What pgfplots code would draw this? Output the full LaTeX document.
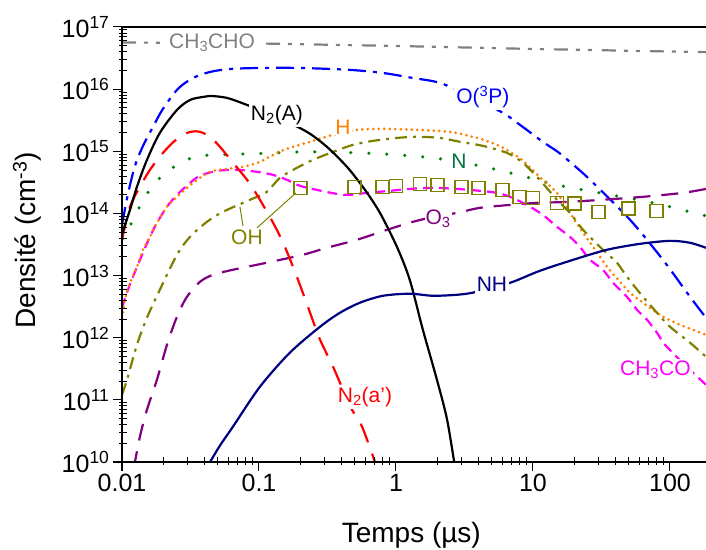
\documentclass[border=0pt]{standalone}
\usepackage{fontspec}
\setmainfont{Liberation Sans}
\usepackage{pgfplots}
\pgfplotsset{compat=1.18}
\definecolor{cgray}{RGB}{128,128,128}
\definecolor{cblue}{RGB}{0,0,255}
\definecolor{cred}{RGB}{255,0,0}
\definecolor{cgreen}{RGB}{0,128,0}
\definecolor{cngreen}{RGB}{0,120,60}
\definecolor{corange}{RGB}{255,128,0}
\definecolor{colive}{RGB}{128,128,0}
\definecolor{cmag}{RGB}{255,0,255}
\definecolor{cpurple}{RGB}{128,0,128}
\definecolor{cnavy}{RGB}{0,0,128}
\begin{document}
\begin{tikzpicture}
\begin{axis}[
  scale only axis, width=589.2pt, height=435pt,
  xmode=log, ymode=log,
  xmin=0.01, xmax=200, ymin=1e10, ymax=1e17,
  axis on top,
  axis line style={line width=1.2pt},
  tick pos=left,
  tick align=outside, major tick length=9pt,
  xtick style={draw=black, line width=1pt},
  ytick style={draw=black, line width=1pt},
  xtick={0.01,0.1,1,10,100}, xticklabels={0.01,0.1,1,10,100},
  ytick={1e10,1e11,1e12,1e13,1e14,1e15,1e16,1e17},
  yticklabels={10\textsuperscript{10},10\textsuperscript{11},10\textsuperscript{12},10\textsuperscript{13},10\textsuperscript{14},10\textsuperscript{15},10\textsuperscript{16},10\textsuperscript{17}},
  tick label style={font=\fontsize{25}{30}\selectfont},
  xlabel={Temps (µs)}, ylabel={Densité (cm\textsuperscript{-3})},
  every axis x label/.style={at={(axis description cs:0.491,-0.168)}, anchor=center, font=\fontsize{28}{33}\selectfont},
  every axis y label/.style={at={(axis description cs:-0.161,0.51)}, rotate=90, anchor=center, font=\fontsize{28}{33}\selectfont},
]
\coordinate (SW) at (rel axis cs:0,0);
% CH3CHO
\addplot[cgray, line width=2.2pt, dash pattern=on 14pt off 8pt on 4pt off 8pt on 4pt off 10pt] coordinates {(0.01,5.64e16)(0.1,5.43e16)(1,4.95e16)(10,4.43e16)(200,3.92e16)};
% O(3P)
\addplot[cblue, line width=2.2pt, smooth, dash pattern=on 18pt off 7pt on 4pt off 7pt] coordinates {
(0.01,6.56e13)(0.01106,2.07e14)(0.01244,5.82e14)(0.01423,1.22e15)(0.01684,2.47e15)(0.0199,4.81e15)(0.0256,1.01e16)(0.0330,1.51e16)(0.0439,1.89e16)(0.0614,2.11e16)(0.1017,2.19e16)(0.199,2.19e16)(0.461,2.04e16)(0.804,1.82e16)(1.33,1.51e16)(2.09,1.26e16)(3.47,7.78e15)(6.04,4.14e15)(8.04,2.66e15)(11.8,1.42e15)(15.2,9.77e14)(18.6,6.76e14)(26.1,3.47e14)(51.1,7.89e13)(88.9,1.79e13)(140,4.56e12)(183,2.10e12)};
% N
\addplot[cgreen, line width=3.5pt, line cap=round, smooth, dash pattern=on 0pt off 18pt] coordinates {
(0.01,3.8e13)(0.01244,8.81e13)(0.01423,1.66e14)(0.0183,3.47e14)(0.0252,6.04e14)(0.0341,8.13e14)(0.0462,8.75e14)(0.0860,9.08e14)(0.217,9.77e14)(0.546,9.42e14)(1.016,8.75e14)(1.86,7.83e14)(3.47,6.27e14)(6.79,4.50e14)(14.96,2.88e14)(30.8,2.14e14)(75.1,1.48e14)(183,9.14e13)};
% O3
\addplot[cpurple, line width=2.2pt, smooth, dash pattern=on 17pt off 11pt] coordinates {
(0.0122,8e9)(0.01352,2.56e10)(0.01522,6.95e10)(0.0180,2.11e11)(0.0213,7.71e11)(0.0252,2.18e12)(0.0298,4.56e12)(0.0371,7.94e12)(0.0462,1.03e13)(0.0646,1.24e13)(0.114,1.61e13)(0.209,2.16e13)(0.313,2.80e13)(0.519,3.77e13)(0.860,5.45e13)(1.33,7.33e13)(2.03,9.14e13)(2.79,1.02e14)(4.10,1.23e14)(6.79,1.37e14)(10.7,1.48e14)(17.7,1.53e14)(32.4,1.66e14)(63.5,1.85e14)(124,2.14e14)(183,2.48e14)};
% CH3CO
\addplot[cmag, line width=2.2pt, smooth, dash pattern=on 10pt off 6pt] coordinates {
(0.01,3.03e12)(0.01106,5.92e12)(0.01203,9.57e12)(0.01423,2.33e13)(0.0160,4.21e13)(0.0180,7.06e13)(0.0213,1.28e14)(0.0252,1.99e14)(0.0314,3.10e14)(0.0371,4.03e14)(0.0494,4.84e14)(0.0690,5.02e14)(0.0967,4.67e14)(0.126,4.18e14)(0.160,3.47e14)(0.199,2.78e14)(0.265,2.39e14)(0.371,2.06e14)(0.461,1.99e14)(0.614,2.14e14)(0.904,2.31e14)(1.26,2.48e14)(1.86,2.58e14)(2.79,2.48e14)(4.10,2.31e14)(5.46,2.14e14)(6.79,1.85e14)(9.04,1.37e14)(11.8,9.48e13)(14.96,6.10e13)(18.6,4.21e13)(22.0,2.90e13)(26.1,1.79e13)(32.4,1.24e13)(38.4,7.66e12)(48.5,4.56e12)(57.4,2.82e12)(67.9,1.95e12)(80.4,1.20e12)(92.0,7.71e11)(128,3.68e11)(183,1.75e11)};
% H
\addplot[corange, line width=3pt, line cap=round, smooth, dash pattern=on 0pt off 5.5pt] coordinates {
(0.01,2.10e12)(0.01052,4.08e12)(0.01144,7.66e12)(0.01286,1.38e13)(0.01423,2.60e13)(0.0160,4.21e13)(0.0180,7.06e13)(0.0213,1.28e14)(0.0252,1.85e14)(0.0330,3.10e14)(0.0439,4.67e14)(0.0584,5.21e14)(0.0764,5.61e14)(0.1017,6.76e14)(0.135,9.42e14)(0.177,1.18e15)(0.236,1.42e15)(0.347,1.84e15)(0.519,2.21e15)(0.804,2.29e15)(1.42,2.21e15)(2.48,2.05e15)(3.90,1.64e15)(5.46,1.27e15)(6.79,9.77e14)(8.31,7.28e14)(11.2,3.87e14)(14.96,2.14e14)(18.6,1.02e14)(23.2,4.88e13)(28.4,2.60e13)(35.2,1.33e13)(43.2,7.94e12)(51.1,5.28e12)(63.5,3.66e12)(88.9,2.18e12)(118,1.62e12)(183,1.12e12)};
% OH model
\addplot[colive, line width=2.2pt, smooth, dash pattern=on 12pt off 6pt on 3pt off 6pt] coordinates {
(0.01,1.21e11)(0.01088,2.11e11)(0.01286,7.71e11)(0.01522,2.10e12)(0.0189,5.92e12)(0.0252,2.16e13)(0.0314,4.21e13)(0.0417,7.33e13)(0.0546,1.06e14)(0.0860,1.66e14)(0.114,2.22e14)(0.142,3.73e14)(0.189,5.41e14)(0.248,7.28e14)(0.347,9.77e14)(0.486,1.27e15)(0.679,1.47e15)(1.016,1.64e15)(1.42,1.71e15)(2.09,1.64e15)(2.93,1.42e15)(4.31,1.22e15)(6.46,9.42e14)(8.45,6.52e14)(11.2,3.47e14)(14.96,1.66e14)(18.6,1.02e14)(23.2,5.45e13)(32.4,2.60e13)(41.0,1.61e13)(48.5,9.57e12)(63.5,4.56e12)(80.4,2.52e12)(100,1.50e12)(140,8.32e11)(183,4.95e11)};
% N2(a')
\addplot[cred, line width=2.2pt, smooth, dash pattern=on 20pt off 12pt] coordinates {
(0.01,3.77e13)(0.01144,1.28e14)(0.01352,2.68e14)(0.0160,5.02e14)(0.0199,9.42e14)(0.0252,1.58e15)(0.0314,2.05e15)(0.0371,2.05e15)(0.0439,1.71e15)(0.0519,1.18e15)(0.0646,6.52e14)(0.0860,2.99e14)(0.120,8.81e13)(0.150,3.37e13)(0.189,9.57e12)(0.236,2.52e12)(0.279,9.3e11)(0.347,3.42e11)(0.410,1.46e11)(0.477,6.95e10)(0.565,3.71e10)(0.703,1.0e10)(0.72,8e9)};
% N2(A)
\addplot[black, line width=2.2pt, smooth] coordinates {
(0.01,4.70e13)(0.01144,1.14e14)(0.01286,2.68e14)(0.01522,7.28e14)(0.0189,1.98e15)(0.0252,4.63e15)(0.0314,6.70e15)(0.0390,7.50e15)(0.0439,7.78e15)(0.0584,7.23e15)(0.0817,5.57e15)(0.135,3.57e15)(0.224,2.05e15)(0.313,1.18e15)(0.439,5.61e14)(0.594,2.39e14)(0.764,1.02e14)(1.016,2.90e13)(1.26,8.55e12)(1.57,1.35e12)(1.99,2.11e11)(2.36,4.81e10)(2.70,8e9)};
% NH
\addplot[cnavy, line width=2.2pt, smooth] coordinates {
(0.0402,7.6e9)(0.0439,1.0e10)(0.0519,1.84e10)(0.0646,3.71e10)(0.1017,1.63e11)(0.168,5.74e11)(0.279,1.50e12)(0.390,2.52e12)(0.546,3.66e12)(0.804,4.73e12)(1.26,5.10e12)(1.86,4.73e12)(2.79,4.91e12)(3.59,5.28e12)(5.02,6.37e12)(7.14,7.94e12)(11.2,1.19e13)(19.6,1.79e13)(34.7,2.60e13)(60.4,3.24e13)(100,3.62e13)(140,3.37e13)(183,2.80e13)};
% OH experiment
\addplot[colive, only marks, mark=square, mark size=6.5pt, mark options={line width=1.6pt, solid}] coordinates {
(0.2,2.58e14)(0.5,2.68e14)(0.8,2.68e14)(1,2.78e14)(1.5,2.99e14)(2,2.88e14)(3,2.68e14)(4,2.58e14)(6,2.39e14)(8,1.85e14)(10,1.78e14)(15,1.48e14)(20,1.43e14)(30,1.06e14)(50,1.19e14)(80,1.10e14)};
% OH leaders
\addplot[colive, line width=1pt] coordinates {(0.0764,6.32e13)(0.0726,1.28e14)};
\addplot[colive, line width=1pt] coordinates {(0.0967,5.86e13)(0.186,2.14e14)};
% labels
\node[font=\fontsize{21}{24}\selectfont, text=cgray, fill=white, inner sep=2pt] at (axis cs:0.0454,5.64e16) {CH\textsubscript{3}CHO};
\node[font=\fontsize{21}{24}\selectfont, text=cblue, fill=white, inner sep=2pt] at (axis cs:4.31,7.5e15) {O(\textsuperscript{3}P)};
\node[font=\fontsize{21}{24}\selectfont, text=black, fill=white, inner sep=2pt] at (axis cs:0.135,3.85e15) {N\textsubscript{2}(A)};
\node[font=\fontsize{21}{24}\selectfont, text=corange, fill=white, inner sep=1pt] at (axis cs:0.410,2.47e15) {H};
\node[font=\fontsize{21}{24}\selectfont, text=cngreen, fill=white, inner sep=1pt] at (axis cs:2.88,7.0e14) {N};
\node[font=\fontsize{21}{24}\selectfont, text=colive, fill=white, inner sep=1pt] at (axis cs:0.0817,4.06e13) {OH};
\node[font=\fontsize{21}{24}\selectfont, text=cpurple, fill=white, inner sep=1pt] at (axis cs:2.03,8.19e13) {O\textsubscript{3}};
\node[font=\fontsize{21}{24}\selectfont, text=cnavy, fill=white, inner sep=2pt] at (axis cs:5.02,7.11e12) {NH};
\node[font=\fontsize{21}{24}\selectfont, text=cred, fill=white, inner sep=2pt] at (axis cs:0.594,1.12e11) {N\textsubscript{2}(a')};
\node[font=\fontsize{21}{24}\selectfont, text=cmag, fill=white, inner sep=2pt] at (axis cs:78.3,3.06e11) {CH\textsubscript{3}CO};
\end{axis}
% tick marks (axis furniture): majors outward, minors inward
\foreach \d in {0,1,2,3,4}{\pgfmathsetmacro{\xx}{136.99*\d}\draw[black, line width=1pt] ([xshift=\xx pt]SW) -- ++(0,-9pt);}
\foreach \d in {0,1,2,3}{\foreach \k in {2,...,9}{\pgfmathsetmacro{\xx}{136.99*(\d+log10(\k))}\draw[black, line width=0.9pt] ([xshift=\xx pt]SW) -- ++(0,5pt);}}
\foreach \d in {0,1,2,3,4,5,6,7}{\pgfmathsetmacro{\yy}{62.142857*\d}\draw[black, line width=1pt] ([yshift=\yy pt]SW) -- ++(-9pt,0);}
\foreach \d in {0,1,2,3,4,5,6}{\foreach \k in {2,...,9}{\pgfmathsetmacro{\yy}{62.142857*(\d+log10(\k))}\draw[black, line width=0.9pt] ([yshift=\yy pt]SW) -- ++(5pt,0);}}
\pgfresetboundingbox
\path[use as bounding box] ([shift={(-122pt,-87pt)}]SW) rectangle ([shift={(584pt,462pt)}]SW);
\end{tikzpicture}
\end{document}
